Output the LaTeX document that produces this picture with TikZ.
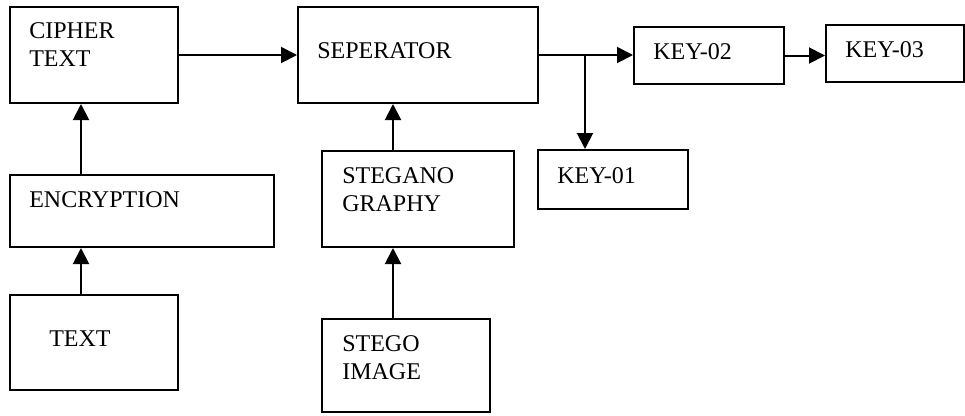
\documentclass[tikz,border=0pt]{standalone}
\usepackage{fontspec}
\setmainfont{Liberation Serif}
\usetikzlibrary{arrows.meta}
\newcommand\mybox[5]{\node[box, minimum width={(#4-#2)*0.75pt}, minimum height={(#5-#3)*0.75pt}] (#1) at (#2,#3) {};}
\newcommand\twolines[2]{\vtop{\hbox{#1}\hbox{#2}}}
\begin{document}
\begin{tikzpicture}[x=0.75pt,y=-0.75pt,
  box/.style={draw, line width=1.5pt, inner sep=0pt, anchor=north west},
  lbl/.style={anchor=base west, inner sep=0pt, font=\fontsize{18}{21.5}\selectfont},
  arr/.style={line width=1.5pt, -{Triangle[length=12pt,width=12pt]}}]
\useasboundingbox (0,0) rectangle (965,415);
% boxes
\mybox{cipher}{9}{6}{177}{102}
\mybox{sep}{297}{6}{537}{102}
\mybox{keytwo}{633}{26}{783}{83}
\mybox{keythree}{825}{24}{963}{81}
\mybox{keyone}{537}{149}{687}{208}
\mybox{enc}{9}{174}{273}{246}
\mybox{txt}{9}{294}{177}{389}
\mybox{steg}{321}{150}{513}{246}
\mybox{stego}{321}{318}{489}{411}
% labels
\node[lbl] (lcipher) at (29,38) {\twolines{CIPHER}{TEXT}};
\node[lbl] (lsep) at (317,58) {SEPERATOR};
\node[lbl] (lkeytwo) at (653,59) {KEY-02};
\node[lbl] (lkeythree) at (845,57) {KEY-03};
\node[lbl] (lkeyone) at (557,183) {KEY-01};
\node[lbl] (lenc) at (29,207) {ENCRYPTION};
\node[lbl] (ltxt) at (49,346) {TEXT};
\node[lbl] (lsteg) at (342,183) {\twolines{STEGANO}{GRAPHY}};
\node[lbl] (lstego) at (342,351) {\twolines{STEGO}{IMAGE}};
% connectors
\draw[arr] (cipher.east) -- (cipher.east -| sep.west);
\draw[arr] (sep.east) -- (sep.east -| keytwo.west);
\coordinate (br) at (585,54);
\draw[arr] (br) -- (br |- keyone.north);
\draw[arr] (keytwo.east) -- (keytwo.east -| keythree.west);
\draw[arr] (txt.north -| 81,0) -- (enc.south -| 81,0);
\draw[arr] (enc.north -| 81,0) -- (cipher.south -| 81,0);
\draw[arr] (stego.north -| 393,0) -- (steg.south -| 393,0);
\draw[arr] (steg.north -| 393,0) -- (sep.south -| 393,0);
\end{tikzpicture}
\end{document}
